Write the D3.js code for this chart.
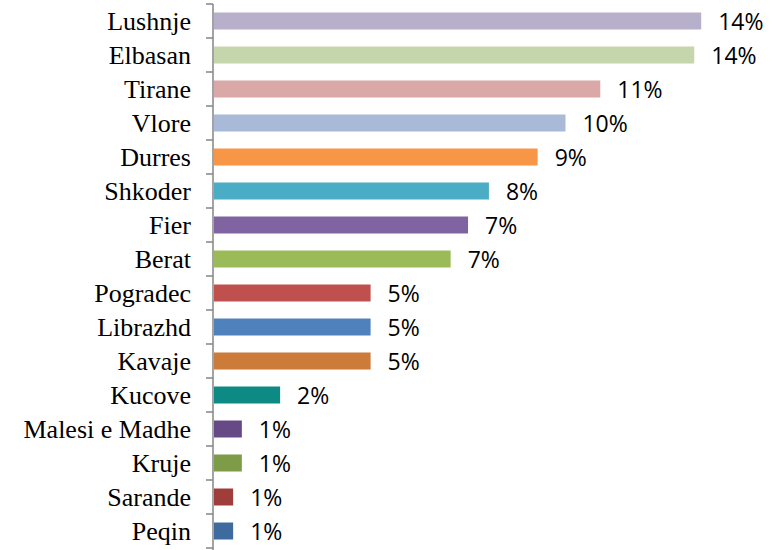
<!DOCTYPE html>
<html>
<head>
    <script src="https://d3js.org/d3.v7.min.js"></script>
</head>
<body style="margin:0">
    <svg width="779" height="550"></svg>
    <script>
        var cities = ["Lushnje", "Elbasan", "Tirane", "Vlore", "Durres", "Shkoder", "Fier", "Berat",
                      "Pogradec", "Librazhd", "Kavaje", "Kucove", "Malesi e Madhe", "Kruje", "Sarande", "Peqin"];
        var shares = [14.0, 13.8, 11.1, 10.1, 9.3, 7.9, 7.3, 6.8, 4.5, 4.5, 4.5, 1.9, 0.8, 0.8, 0.55, 0.55];
        var shareLabels = ["14%", "14%", "11%", "10%", "9%", "8%", "7%", "7%", "5%", "5%", "5%", "2%", "1%", "1%", "1%", "1%"];
        var colors = ["#B8AFCB", "#C6D6AC", "#DAA8A7", "#A9BAD8", "#F79646", "#4BACC6", "#8064A2", "#9BBB59",
                      "#C0504D", "#4F81BD", "#CC7B38", "#0E8A84", "#664A85", "#7E9B48", "#9F3D3B", "#3F6AA0"];

        var svg = d3.select("svg");
        var x = d3.scaleLinear().domain([0, 15]).range([214, 736]);
        var y = d3.scaleBand().domain(cities).range([4, 548]).padding(0);
        var barH = y.bandwidth() * 0.5;

        // category axis line with ticks between categories
        var tickYs = cities.map(function(c) { return y(c); }).concat([y.range()[1]]);
        svg.append("line").attr("x1", 213).attr("x2", 213).attr("y1", y.range()[0]).attr("y2", 550)
            .attr("stroke", "#8c8c8c").attr("stroke-width", 1.6);
        svg.selectAll("line.tick").data(tickYs).enter().append("line").attr("class", "tick")
            .attr("x1", 206).attr("x2", 213)
            .attr("y1", function(d) { return d; }).attr("y2", function(d) { return d; })
            .attr("stroke", "#8c8c8c").attr("stroke-width", 1.6);

        cities.forEach(function(c, i) {
            var cy = y(c) + y.bandwidth() / 2;
            svg.append("rect")
                .attr("x", x(0)).attr("y", cy - barH / 2)
                .attr("width", x(shares[i]) - x(0)).attr("height", barH)
                .attr("fill", colors[i]);
            svg.append("text")
                .attr("x", 191).attr("y", cy + 9)
                .style("font-family", "Times New Roman").style("font-size", "26px")
                .style("text-anchor", "end")
                .text(c);
            svg.append("text")
                .attr("x", x(shares[i]) + 17).attr("y", cy + 9)
                .style("font-family", "Open Sans").style("font-size", "23px")
                .text(shareLabels[i]);
        });
    </script>
</body>
</html>
